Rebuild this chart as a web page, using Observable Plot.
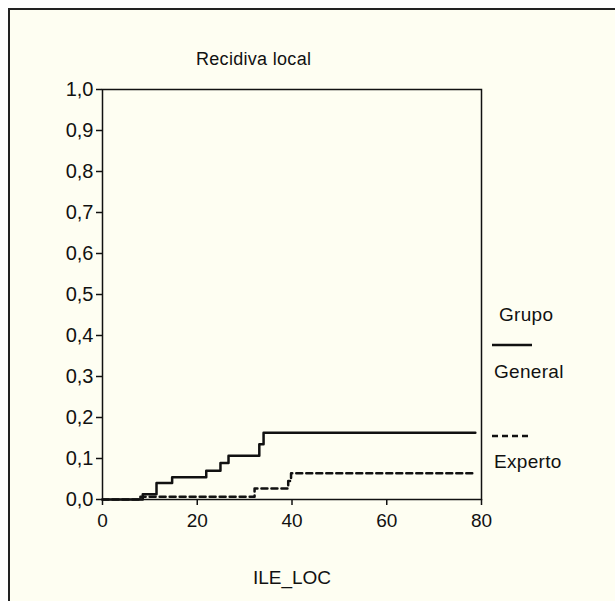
<!DOCTYPE html>
<html>
<head>
<meta charset="utf-8">
<script src="https://cdn.jsdelivr.net/npm/d3@7"></script>
<script src="https://cdn.jsdelivr.net/npm/@observablehq/plot@0.6"></script>
<style>
  html, body { margin: 0; padding: 0; background: #ffffff; }
  #wrap { position: absolute; left: 0; top: 0; width: 615px; height: 601px; overflow: hidden; font-family: "Liberation Sans", Arial, sans-serif; color: #111; }
  #panel { position: absolute; left: 8px; top: 8px; width: 620px; height: 610px; background: #fefef2; border-left: 2px solid #222; border-top: 2px solid #222; }
  #chart { position: absolute; left: 0; top: 0; }
  .t { position: absolute; font-size: 18px; white-space: nowrap; letter-spacing: 0.3px; }
</style>
</head>
<body>
<div id="wrap">
  <div id="panel"></div>
  <div id="chart"></div>
  <div class="t" id="title" style="left:196px; top:49px;">Recidiva local</div>
  <div class="t" style="left:499px; top:304px; font-size:19px;">Grupo</div>
  <svg style="position:absolute; left:490px; top:340px;" width="50" height="10"><line x1="2" x2="42" y1="5" y2="5" stroke="#111" stroke-width="2.5"/></svg>
  <div class="t" style="left:494px; top:361px; font-size:19px;">General</div>
  <svg style="position:absolute; left:490px; top:431px;" width="50" height="10"><line x1="2" x2="40" y1="5" y2="5" stroke="#111" stroke-width="2.5" stroke-dasharray="6,4"/></svg>
  <div class="t" style="left:494px; top:451px; font-size:19px;">Experto</div>
</div>
<script>
const groups = ["General", "Experto"];
const generalTime = [0, 8.5, 11.4, 14.7, 21.9, 24.9, 26.6, 33.1, 34.0, 78.7];
const generalValue = [0, 0.013, 0.040, 0.054, 0.070, 0.089, 0.107, 0.135, 0.163, 0.163];
const expertoTime = [0, 8.0, 32.1, 39.2, 39.8, 78.7];
const expertoValue = [0, 0.007, 0.027, 0.045, 0.064, 0.064];
const xTicks = [0, 20, 40, 60, 80];
const yTicks = [0, 0.1, 0.2, 0.3, 0.4, 0.5, 0.6, 0.7, 0.8, 0.9, 1.0];

const general = generalTime.map((t, i) => ({t, v: generalValue[i], g: groups[0]}));
const experto = expertoTime.map((t, i) => ({t, v: expertoValue[i], g: groups[1]}));
const fmt = d => d.toFixed(1).replace(".", ",");

const chart = Plot.plot({
  width: 615,
  height: 601,
  marginLeft: 102,
  marginRight: 134,
  marginTop: 89,
  marginBottom: 102,
  style: {background: "transparent", fontFamily: "'Liberation Sans', Arial, sans-serif", fontSize: "20px", color: "#111", overflow: "visible"},
  x: {domain: [0, 80], ticks: xTicks},
  y: {domain: [0, 1], ticks: yTicks},
  marks: [
    Plot.frame({stroke: "#111", strokeWidth: 1.5}),
    Plot.axisX({ticks: xTicks, tickSize: 6, tickPadding: 8, tickFormat: d => String(d), label: "ILE_LOC", labelAnchor: "center", labelOffset: 84, labelArrow: "none", fontSize: 19, strokeWidth: 1.5}),
    Plot.axisY({ticks: yTicks, tickSize: 6, tickPadding: 3, tickFormat: fmt, label: null, fontSize: 20, strokeWidth: 1.5}),
    Plot.line(general, {x: "t", y: "v", curve: "step-after", stroke: "#111", strokeWidth: 2.5}),
    Plot.line(experto, {x: "t", y: "v", curve: "step-after", stroke: "#111", strokeWidth: 2.5, strokeDasharray: "6,4"})
  ]
});
document.getElementById("chart").appendChild(chart);
</script>
</body>
</html>
